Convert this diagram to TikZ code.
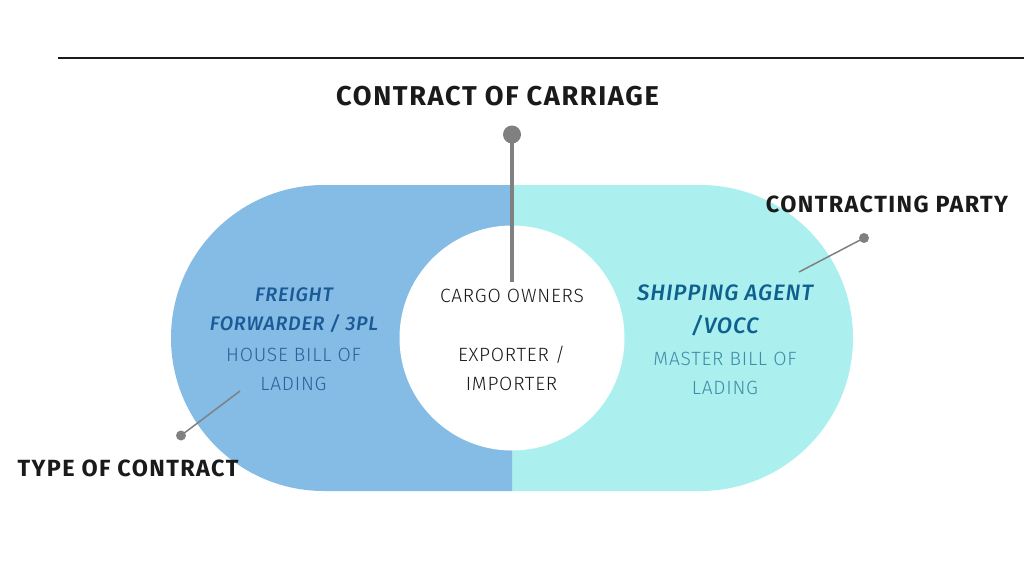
\documentclass[tikz,border=0pt]{standalone}
\usepackage{fontspec}
\setmainfont{Fira Sans}
\newfontfamily\titlefont[LetterSpace=6]{Fira Sans}
\newfontfamily\bodyfont[LetterSpace=4]{Fira Sans Light}[ItalicFont={Fira Sans Medium Italic}]
\usepackage{tikz}
\usetikzlibrary{positioning,calc}
\definecolor{pillblue}{HTML}{85BCE5}
\definecolor{pillaqua}{HTML}{ABF0EE}
\definecolor{darkink}{HTML}{1A1A1A}
\definecolor{pingrey}{HTML}{808080}
\definecolor{navytext}{HTML}{1B5A96}
\definecolor{leftbody}{HTML}{2B6298}
\definecolor{rightbold}{HTML}{10608F}
\definecolor{rightbody}{HTML}{3F8CA8}
\tikzset{
  headlabel/.style={color=darkink,font=\titlefont\bfseries\fontsize{23.4}{28}\selectfont,inner sep=0pt},
  pindot/.style={circle,fill=pingrey,inner sep=0pt,outer sep=0pt},
  pinline/.style={draw=pingrey,line width=1.5pt},
  bodytext/.style={font=\bodyfont\fontsize{19.2}{29}\selectfont,align=center,inner sep=0pt}
}
\begin{document}
\begin{tikzpicture}[x=1pt,y=-1pt]
  \useasboundingbox (0,0) rectangle (1024,576);
  \fill[white] (0,0) rectangle (1024,576);

  % Top rule
  \coordinate (ruleleft) at (58,58);
  \coordinate (ruleright) at (1024,58);
  \draw[line width=1.8pt,darkink] (ruleleft) -- (ruleright);

  % Pill halves
  \fill[pillaqua] (512,185) -- (700,185) arc[start angle=-90,end angle=90,radius=153] -- (512,491) -- cycle;
  \fill[pillblue] (512,185) -- (324,185) arc[start angle=-90,end angle=-270,radius=153] -- (512,491) -- cycle;
  \node[circle,fill=white,minimum size=225pt,inner sep=0pt] (hub) at (512,338) {};

  % Pins
  \node[pindot,minimum size=18pt] (topdot) at (512,134.5) {};
  \coordinate (topend) at (512,282);
  \draw[pinline,line width=3.5pt] (topdot.center) -- (topend);
  \node[pindot,minimum size=10pt] (leftdot) at (181,435.5) {};
  \coordinate (leftend) at (240,391);
  \draw[pinline] (leftdot.center) -- (leftend);
  \node[pindot,minimum size=10pt] (rightdot) at (864,238) {};
  \coordinate (rightend) at (799,272);
  \draw[pinline] (rightdot.center) -- (rightend);

  % Head labels
  \node[headlabel,font=\titlefont\bfseries\fontsize{27.2}{32}\selectfont] (carriage) at (497.5,96) {CONTRACT OF CARRIAGE};
  \node[headlabel] (party) at (887,204.5) {CONTRACTING PARTY};
  \node[headlabel] (typelabel) at (128,468) {TYPE OF CONTRACT};

  % Left half
  \node[bodytext,color=navytext,font=\bodyfont\itshape\fontsize{19.6}{29}\selectfont] (forwarder) at (294,310) {FREIGHT\\FORWARDER / 3PL};
  \node[bodytext,color=leftbody] (housebill) at (293.5,369) {HOUSE BILL OF\\LADING};

  % Centre
  \node[bodytext,color=darkink] (cargo) at (512,295.5) {CARGO OWNERS};
  \node[bodytext,color=darkink] (exporter) at (511.5,368) {EXPORTER /\\IMPORTER};

  % Right half
  \node[bodytext,color=rightbold,font=\bodyfont\itshape\fontsize{22.3}{33}\selectfont] (agent) at (725,310) {SHIPPING AGENT\\/VOCC};
  \node[bodytext,color=rightbody] (masterbill) at (725,373) {MASTER BILL OF\\LADING};
\end{tikzpicture}
\end{document}
